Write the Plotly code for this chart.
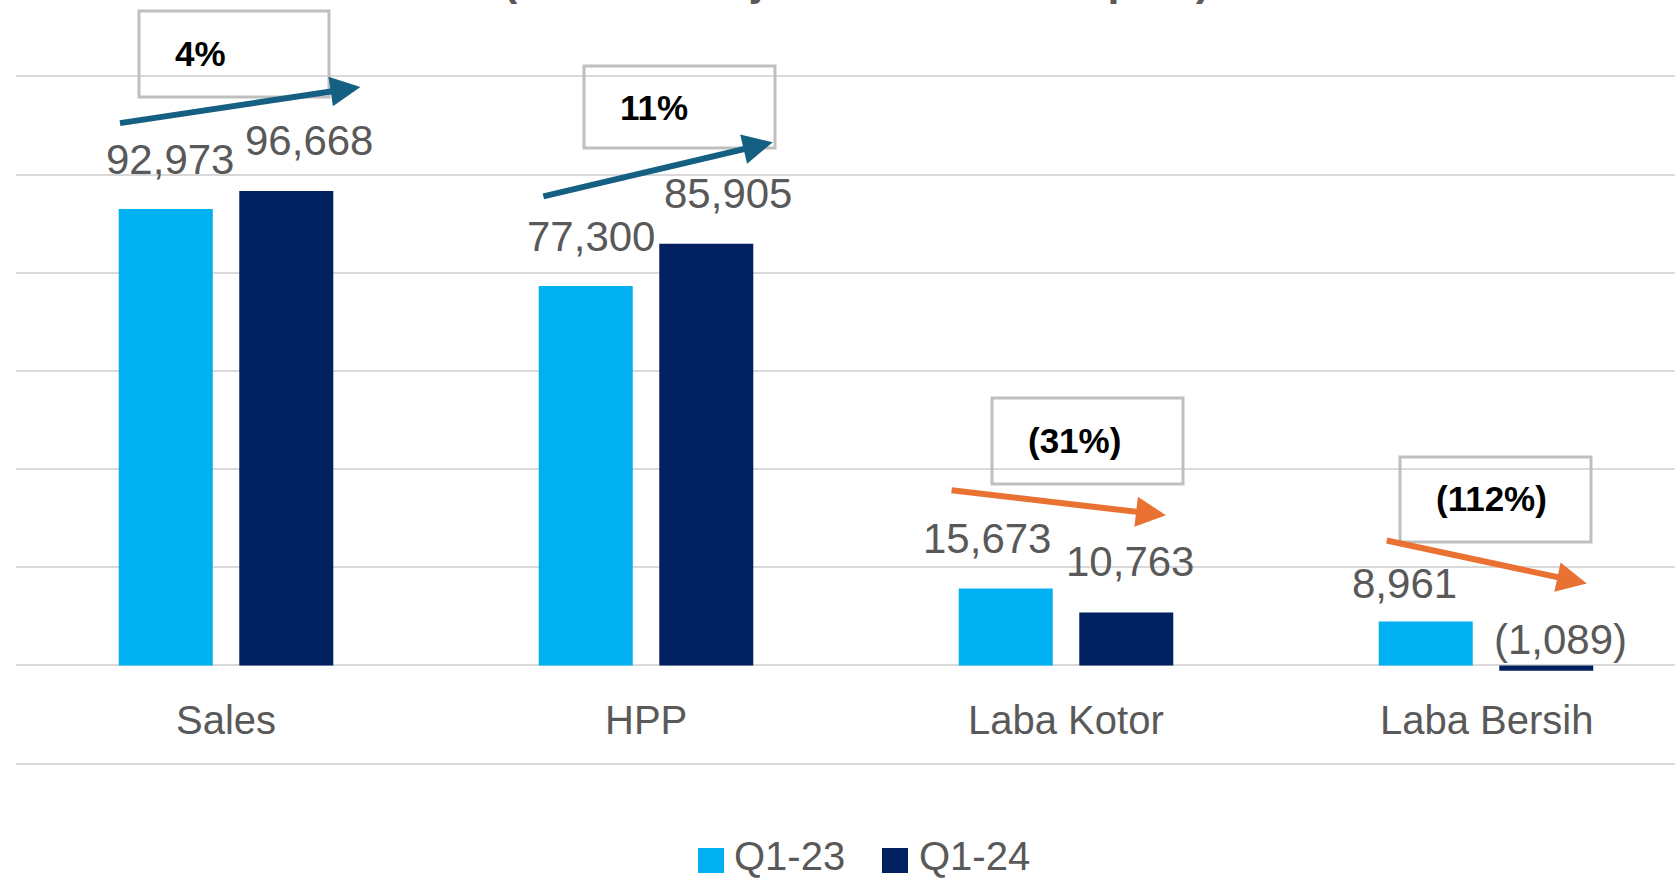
import plotly.graph_objects as go

# ---------------- data ----------------
categories = ["Sales", "HPP", "Laba Kotor", "Laba Bersih"]
series_names = ["Q1-23", "Q1-24"]
q1_23 = [92973, 77300, 15673, 8961]
q1_24 = [96668, 85905, 10763, -1089]
title_text = "(nilai dalam juta / in million rupiah)"

# ---------------- style ----------------
series_colors = ["#00B0F0", "#002060"]
UP_COLOR = "#156082"
DOWN_COLOR = "#E97132"
GRID = "#D9D9D9"
TXT = "#595959"
FONT = "Liberation Sans, Arial, sans-serif"

W, H = 1675, 879
# plot area in window pixels: left 16, top 75, bottom 765, right = 1675
ML, MR, MT, MB = 16, 0, 75, H - 765
PW, PH = W - ML - MR, H - MT - MB
YR = [-20300, 120300]
XR = [-0.5, -0.5 + PW / 420.0]
BARGAP, GROUPGAP = 0.426, 0.22
SLOT = (1 - BARGAP) / 2

# value-label nudges (pixels): x shift, y shift above bar end
label_dx = [[4, 5, -19, -21], [23, 22, 4, 14]]
label_dy = [[50, 50, 50, 38], [50, 50, 51, 26]]

# trend arrows (category units, value units): tail -> tip
arrow_tail = [(-0.256, 110450), (0.752, 95500), (1.724, 35700), (2.760, 25500)]
arrow_tip = [(0.320, 117850), (1.302, 106600), (2.238, 30600), (3.240, 16700)]
# callout boxes in window pixels: left, top, right, bottom
boxes_px = [(139, 11, 329, 97), (584, 66, 775, 148), (992, 398, 1183, 484), (1400, 457, 1591, 542)]


def px2paper_x(px):
    return (px - ML) / PW


def px2paper_y(py):
    return (H - MB - py) / PH


def fmt(v):
    return f"({abs(v):,})" if v < 0 else f"{v:,}"


def fmt_pct(p):
    r = round(abs(p) * 100)
    return f"({r}%)" if p < 0 else f"{r}%"


x = list(range(len(categories)))
fig = go.Figure()
all_series = [q1_23, q1_24]
for name, vals, col in zip(series_names, all_series, series_colors):
    fig.add_trace(go.Bar(x=x, y=vals, name=name, showlegend=False,
                         marker=dict(color=col, line_width=0)))

annotations = []
shapes = []

# value labels
for s, vals in enumerate(all_series):
    for i, v in enumerate(vals):
        annotations.append(dict(
            x=i + (s - 0.5) * SLOT, y=max(v, 0), xref="x", yref="y",
            text=fmt(v), showarrow=False, xanchor="center", yanchor="middle",
            xshift=label_dx[s][i], yshift=label_dy[s][i],
            font=dict(family=FONT, size=42, color=TXT)))

# category labels
for i, c in enumerate(categories):
    annotations.append(dict(
        x=i, y=0, xref="x", yref="y", text=c, showarrow=False,
        xanchor="center", yanchor="middle", yshift=-55,
        font=dict(family=FONT, size=40, color=TXT)))

# trend arrows + boxes
for i in range(len(categories)):
    a, b = q1_23[i], q1_24[i]
    pct = (b - a) / a
    col = UP_COLOR if pct >= 0 else DOWN_COLOR
    (tx, ty), (hx, hy) = arrow_tail[i], arrow_tip[i]
    annotations.append(dict(
        x=hx, y=hy, xref="x", yref="y", ax=tx, ay=ty, axref="x", ayref="y",
        text="", showarrow=True, arrowhead=2, arrowsize=1.0, arrowwidth=6,
        arrowcolor=col, standoff=0, startstandoff=0))
    l, t, r, btm = boxes_px[i]
    shapes.append(dict(type="rect", xref="paper", yref="paper",
                       x0=px2paper_x(l), x1=px2paper_x(r),
                       y0=px2paper_y(btm), y1=px2paper_y(t),
                       line=dict(color="#BFBFBF", width=3), fillcolor="rgba(0,0,0,0)"))
    annotations.append(dict(
        x=px2paper_x(l + 34), y=px2paper_y(t + 42), xref="paper", yref="paper",
        text=f"<b>{fmt_pct(pct)}</b>", showarrow=False, xanchor="left", yanchor="middle",
        font=dict(family=FONT, size=35, color="#000000")))

# legend (manual)
leg_sq = [(698, 724), (882, 908)]
leg_txt = [732, 917]
for s, name in enumerate(series_names):
    x0, x1 = leg_sq[s]
    shapes.append(dict(type="rect", xref="paper", yref="paper",
                       x0=px2paper_x(x0), x1=px2paper_x(x1),
                       y0=px2paper_y(873), y1=px2paper_y(848),
                       line=dict(width=0), fillcolor=series_colors[s]))
    annotations.append(dict(
        x=px2paper_x(leg_txt[s]), y=px2paper_y(856), xref="paper", yref="paper",
        text=name, showarrow=False, xanchor="left", yanchor="middle",
        font=dict(family=FONT, size=40, color=TXT)))

# partially visible title at top (cut off by the top edge, as in the source)
annotations.append(dict(
    x=px2paper_x(856), y=px2paper_y(6), xref="paper", yref="paper",
    text=f"<b>{title_text}</b>", showarrow=False, xanchor="center", yanchor="bottom",
    font=dict(family=FONT, size=43, color=TXT)))

fig.update_layout(
    width=W, height=H,
    margin=dict(l=ML, r=MR, t=MT, b=MB, pad=0),
    paper_bgcolor="white", plot_bgcolor="white",
    barmode="group", bargap=BARGAP, bargroupgap=GROUPGAP,
    xaxis=dict(range=XR, showgrid=False, zeroline=False, showticklabels=False,
               showline=False, ticks=""),
    yaxis=dict(range=YR, dtick=20000, tick0=0, showgrid=True, gridcolor=GRID, gridwidth=2,
               zeroline=True, zerolinecolor=GRID, zerolinewidth=2,
               showticklabels=False, ticks="", showline=False),
    annotations=annotations, shapes=shapes,
    showlegend=False,
)

fig.write_html("out.html", config={"displayModeBar": False},
               post_script="document.body.style.margin='0px';document.body.style.overflow='hidden';")
